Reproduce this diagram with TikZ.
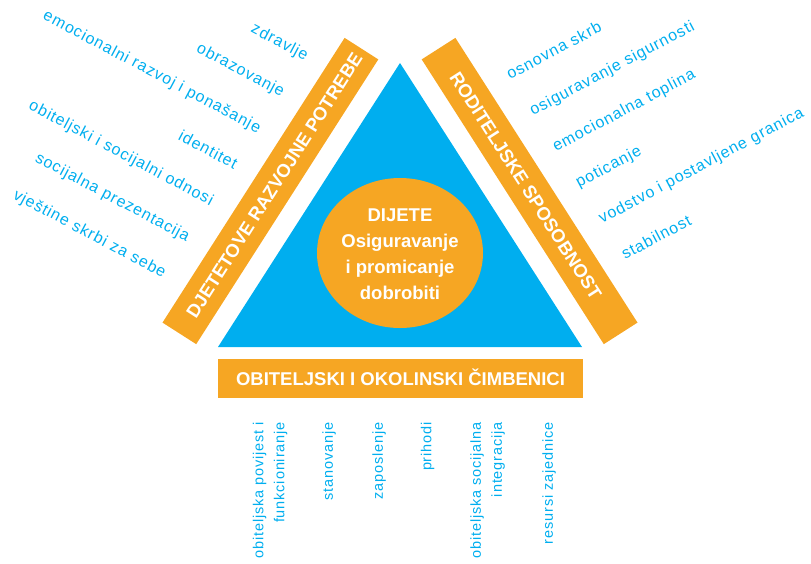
\documentclass[tikz,border=0pt]{standalone}
\usepackage{fontspec}
\setmainfont{Liberation Sans}
\newfontfamily\oznaka[LetterSpace=6]{Liberation Sans}
\usetikzlibrary{shapes.geometric}
\definecolor{plava}{RGB}{0,174,239}
\definecolor{narancasta}{RGB}{246,166,35}

\begin{document}
\begin{tikzpicture}[x=1pt,y=-1pt,
	traka/.style={fill=narancasta,inner sep=0pt},
	natpis/.style={text=white,font=\bfseries\fontsize{18.5}{26}\selectfont,inner sep=0pt,text height=13.2pt,text depth=0pt},
	stavka/.style={text=plava,font=\oznaka\fontsize{16}{18}\selectfont,inner sep=0pt},
	stavkaV/.style={text=plava,font=\oznaka\fontsize{14.5}{21}\selectfont,inner sep=0pt,rotate=90,anchor=east,align=right}]
	\useasboundingbox (0,0) rectangle (811,563);
	\fill[plava] (218,347) -- (582,347) -- (400,63) -- cycle;%Dreieck
	\node[ellipse,fill=narancasta,minimum width=166pt,minimum height=150pt,inner sep=0pt] (kreis) at (400,253) {};%Kreis Mitte
	\node[text=white,font=\bfseries\fontsize{18.5}{26}\selectfont,align=center,inner sep=0pt] (dijete) at (400,254.6) {DIJETE\\Osiguravanje\\i promicanje\\dobrobiti};
	\node[traka,rotate=57.4,minimum width=338pt,minimum height=40pt] (lijevo) at (270.4,191) {};%linke Leiste
	\node[natpis,rotate=57.4] (potrebe) at (274.1,185.3) {DJETETOVE RAZVOJNE POTREBE};
	\node[traka,rotate=-57.4,minimum width=338pt,minimum height=40pt] (desno) at (529.6,191) {};%rechte Leiste
	\node[natpis,rotate=-57.4] (sposobnost) at (525.9,185.3) {RODITELJSKE SPOSOBNOST};
	\node[traka,natpis,minimum width=365pt,minimum height=39pt] (dolje) at (400.5,378.5) {OBITELJSKI I OKOLINSKI ČIMBENICI};%untere Leiste
	%links
	\node[stavka,rotate=-28,anchor=base east] (l1) at (305,61) {zdravlje};
	\node[stavka,rotate=-28,anchor=base east] (l2) at (281.3,97.2) {obrazovanje};
	\node[stavka,rotate=-28,anchor=base east] (l3) at (257.6,133.4) {emocionalni razvoj i ponašanje};
	\node[stavka,rotate=-28,anchor=base east] (l4) at (233.9,169.6) {identitet};
	\node[stavka,rotate=-28,anchor=base east] (l5) at (210.2,205.8) {obiteljski i socijalni odnosi};
	\node[stavka,rotate=-28,anchor=base east] (l6) at (186.5,242) {socijalna prezentacija};
	\node[stavka,rotate=-28,anchor=base east] (l7) at (162.8,278.2) {vještine skrbi za sebe};
	%rechts
	\node[stavka,rotate=28,anchor=base west] (d1) at (510,80) {osnovna skrb};
	\node[stavka,rotate=28,anchor=base west] (d2) at (533,116) {osiguravanje sigurnosti};
	\node[stavka,rotate=28,anchor=base west] (d3) at (556,152) {emocionalna toplina};
	\node[stavka,rotate=28,anchor=base west] (d4) at (579,188) {poticanje};
	\node[stavka,rotate=28,anchor=base west] (d5) at (602,224) {vodstvo i postavljene granica};
	\node[stavka,rotate=28,anchor=base west] (d6) at (625,260) {stabilnost};
	%unten
	\node[stavkaV] (u1) at (270,422) {obiteljska povijest i\\funkcioniranje};
	\node[stavkaV] (u2) at (329,422) {stanovanje};
	\node[stavkaV] (u3) at (379,422) {zaposlenje};
	\node[stavkaV] (u4) at (427.5,422) {prihodi};
	\node[stavkaV] (u5) at (487.5,422) {obiteljska socijalna\\integracija};
	\node[stavkaV] (u6) at (549,422) {resursi zajednice};

\end{tikzpicture}
\end{document}
